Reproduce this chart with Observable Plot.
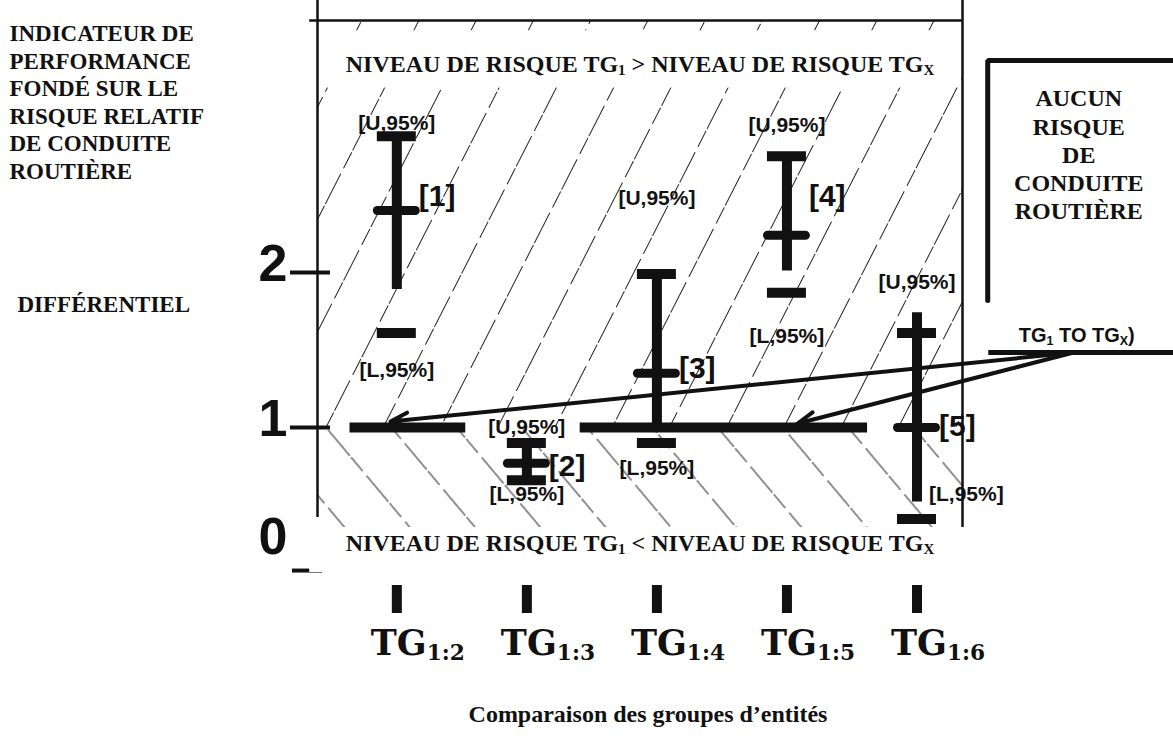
<!DOCTYPE html>
<html>
<head>
<meta charset="utf-8">
<script src="https://cdn.jsdelivr.net/npm/d3@7"></script>
<script src="https://cdn.jsdelivr.net/npm/@observablehq/plot@0.6"></script>
<style>
  html, body { margin: 0; padding: 0; background: #fff; }
  svg { display: block; }
</style>
</head>
<body>
<div id="chart"></div>
<script>
// ---- data -----------------------------------------------------------------
const groups      = ["1:2", "1:3", "1:4", "1:5", "1:6"];
const idLabels    = ["[1]", "[2]", "[3]", "[4]", "[5]"];
const estimate    = [2.40, 0.77, 1.35, 2.24, 1.00];   // point estimate (rounded marker)
const upperCI     = [2.88, 0.90, 1.99, 2.75, 1.61];   // [U,95%] cap
const lowerCI     = [1.61, 0.66, 0.90, 1.87, 0.41];   // [L,95%] dash
const stemTop     = [2.88, 0.90, 1.99, 2.75, 1.74];   // vertical bar, top
const stemBottom  = [1.89, 0.66, 1.00, 2.01, 0.52];   // vertical bar, bottom
const idLabelY    = [2.49, 0.75, 1.38, 2.49, 1.01];
const upperLabelY = [2.96, 1.00, 2.48, 2.95, 1.94];
const lowerLabelY = [1.37, 0.57, 0.74, 1.59, 0.57];
const yTickValues = [1, 2];
const yZero       = [0];
const refLevel    = 1;                                  // TG1 risk = TGx risk
const refSegments = [[0.64, 1.53], [2.41, 4.62]];
const arrowFrom   = [6.205, 1.484];
const arrowTo     = [[0.952, 1.039], [4.082, 1.026]];

const leftTitle   = "INDICATEUR DE\nPERFORMANCE\nFONDÉ SUR LE\nRISQUE RELATIF\nDE CONDUITE\nROUTIÈRE";
const leftTitle2  = "DIFFÉRENTIEL";
const boxText     = "AUCUN\nRISQUE\nDE\nCONDUITE\nROUTIÈRE";
const boxNote     = "TG_{1} TO TG_{X})";
const topNote     = "NIVEAU DE RISQUE TG_{1} > NIVEAU DE RISQUE TG_{X}";
const bottomNote  = "NIVEAU DE RISQUE TG_{1} < NIVEAU DE RISQUE TG_{X}";
const xTitle      = "Comparaison des groupes d’entités";

// ---- table built from the arrays -----------------------------------------
const rows = groups.map((g, k) => ({
  g, i: k + 1,
  est: estimate[k], up: upperCI[k], lo: lowerCI[k],
  top: stemTop[k], bot: stemBottom[k],
  id: idLabels[k], idY: idLabelY[k], uY: upperLabelY[k], lY: lowerLabelY[k]
}));
const idx = rows.map(d => d.i);

const X = [0.39, 5.35];      // x domain (frame)
const Y = [0.11, 3.626];     // y domain (frame)
const INK = "#111";
const SERIF = "'Liberation Serif','Times New Roman',serif";
const SANS = "'Liberation Sans',Arial,sans-serif";
const WIDE = "'DejaVu Serif',serif";
const capHalf = 0.15, meanHalf = 0.146;
const intFmt = d => String(d);

const chart = Plot.plot({
  width: 1173, height: 736,
  marginLeft: 317, marginRight: 211, marginTop: 20, marginBottom: 171,
  x: {domain: X, axis: null},
  y: {domain: Y, axis: null},
  style: {background: "#fff", color: INK},
  marks: [
    // hatched regions
    Plot.rect([{a: X[0], b: X[1], lo: refLevel, hi: Y[1]}], {x1: "a", x2: "b", y1: "lo", y2: "hi", fill: "url(#hatchUp)"}),
    Plot.rect([{a: X[0], b: X[1], lo: Y[0], hi: refLevel}], {x1: "a", x2: "b", y1: "lo", y2: "hi", fill: "url(#hatchDown)"}),
    // white band behind the top note
    Plot.rect([{a: X[0] + 0.02, b: X[1] - 0.02, lo: 3.19, hi: 3.56}], {x1: "a", x2: "b", y1: "lo", y2: "hi", fill: "#fff"}),
    // frame lines
    Plot.ruleX([X[0]], {y1: 0.42, y2: 3.77, stroke: INK, strokeWidth: 2.5}),
    Plot.ruleX([X[1]], {y1: Y[0], y2: 3.77, stroke: INK, strokeWidth: 2.5}),
    Plot.ruleY([Y[1]], {x1: 0.33, x2: X[1], stroke: INK, strokeWidth: 2.5}),
    // reference line at 1
    Plot.ruleY(refSegments, {y: () => refLevel, x1: d => d[0], x2: d => d[1], stroke: INK, strokeWidth: 10}),
    // interval bars
    Plot.ruleX(rows, {x: "i", y1: "bot", y2: "top", stroke: INK, strokeWidth: 10}),
    Plot.ruleY(rows, {y: "up", x1: d => d.i - capHalf, x2: d => d.i + capHalf, stroke: INK, strokeWidth: 10}),
    Plot.ruleY(rows, {y: "lo", x1: d => d.i - capHalf, x2: d => d.i + capHalf, stroke: INK, strokeWidth: 10}),
    Plot.ruleY(rows, {y: "est", x1: d => d.i - meanHalf, x2: d => d.i + meanHalf, stroke: INK, strokeWidth: 9, strokeLinecap: "round"}),
    // labels of the bars
    Plot.text(rows, {x: "i", y: "idY", text: "id", dx: 22, textAnchor: "start", fontFamily: SANS, fontWeight: "bold", fontSize: 30, fill: INK}),
    Plot.text(rows, {x: "i", y: "uY", text: () => "[U,95%]", fontFamily: SANS, fontWeight: "bold", fontSize: 21, fill: INK}),
    Plot.text(rows.filter(d => d.i < 5), {x: "i", y: "lY", text: () => "[L,95%]", fontFamily: SANS, fontWeight: "bold", fontSize: 21, fill: INK}),
    Plot.text(rows.filter(d => d.i === 5), {x: "i", y: "lY", text: () => "[L,95%]", dx: 12, textAnchor: "start", fontFamily: SANS, fontWeight: "bold", fontSize: 21, fill: INK}),
    // arrows from the side note
    Plot.arrow(arrowTo, {x1: () => arrowFrom[0], y1: () => arrowFrom[1], x2: d => d[0], y2: d => d[1], stroke: INK, strokeWidth: 4, headLength: 7, headAngle: 45, bend: 0}),
    // side box
    Plot.line([[5.544, 1.819], [5.544, 3.368], [7.2, 3.368]], {x: d => d[0], y: d => d[1], stroke: INK, strokeWidth: 5, strokeLinejoin: "miter"}),
    Plot.ruleY([arrowFrom[1]], {x1: 5.552, x2: 7.2, stroke: INK, strokeWidth: 5}),
    Plot.text([boxText], {x: () => 6.244, y: () => 3.20, text: d => d, lineAnchor: "top", lineHeight: 1.17, fontFamily: SERIF, fontWeight: "bold", fontSize: 24, fill: INK}),
    Plot.text([boxNote], {x: () => 6.229, y: () => 1.594, text: d => d, fontFamily: SANS, fontWeight: "bold", fontSize: 20, fill: INK}),
    // left titles
    Plot.text([leftTitle], {frameAnchor: "top-left", dx: -308, dy: 1, text: d => d, textAnchor: "start", lineAnchor: "top", lineHeight: 1.2, fontFamily: SERIF, fontWeight: "bold", fontSize: 23, fill: INK}),
    Plot.text([leftTitle2], {frameAnchor: "top-left", dx: -300, dy: 275, text: d => d, textAnchor: "start", lineAnchor: "top", fontFamily: SERIF, fontWeight: "bold", fontSize: 23, fill: INK}),
    // y axis
    Plot.axisY(yTickValues, {tickSize: 40, dx: 13, tickFormat: () => "", stroke: INK, strokeWidth: 4}),
    Plot.axisY(yTickValues, {tickSize: 0, tickPadding: 30, dy: -8, tickFormat: intFmt, fontFamily: SANS, fontWeight: "bold", fontSize: 52, fill: INK}),
    Plot.axisY(yZero, {tickSize: 30, dx: 5, dy: -12, tickFormat: () => "", stroke: INK, strokeWidth: 4}),
    Plot.axisY(yZero, {tickSize: 0, tickPadding: 30, dy: -45, tickFormat: intFmt, fontFamily: SANS, fontWeight: "bold", fontSize: 52, fill: INK}),
    // top note
    Plot.text([topNote], {frameAnchor: "top", dy: 34, text: d => d, fontFamily: SERIF, fontWeight: "bold", fontSize: 24, fill: INK}),
    // bottom band + note
    Plot.rect([{a: 0.33, b: 5.37, lo: 0.065, hi: 0.355}], {x1: "a", x2: "b", y1: "lo", y2: "hi", fill: "#fff"}),
    Plot.text([bottomNote], {frameAnchor: "bottom", dy: -15, text: d => d, fontFamily: SERIF, fontWeight: "bold", fontSize: 24, fill: INK}),
    // x axis
    Plot.axisX(idx, {tickSize: 28, dy: 20, tickFormat: () => "", stroke: INK, strokeWidth: 10}),
    Plot.text(rows, {x: "i", frameAnchor: "bottom", dy: 89, dx: -26, textAnchor: "start", text: d => `TG_{${d.g}}`, fontFamily: WIDE, fontWeight: "bold", fontSize: 35, fill: INK}),
    Plot.text([xTitle], {frameAnchor: "bottom", dx: 8, dy: 156, text: d => d, fontFamily: SERIF, fontWeight: "bold", fontSize: 24, fill: INK})
  ]
});

document.getElementById("chart").append(chart);

// hatch patterns
const svg = d3.select(chart.tagName.toLowerCase() === "svg" ? chart : chart.querySelector("svg"));
const defs = svg.insert("defs", ":first-child");
function hatch(id, angle, w) {
  const p = defs.append("pattern").attr("id", id)
    .attr("patternUnits", "userSpaceOnUse")
    .attr("width", w).attr("height", 60)
    .attr("patternTransform", `rotate(${angle})`);
  p.append("line").attr("x1", w / 2).attr("x2", w / 2).attr("y1", 0).attr("y2", 60)
    .attr("stroke", "#222").attr("stroke-width", 1)
    .attr("stroke-dasharray", "34 2 18 6");
}
hatch("hatchUp", 27, 51);
hatch("hatchDown", -40, 50);

// subscripts written as _{...}
svg.selectAll("text").each(function () {
  const el = this;
  if (el.querySelector("tspan")) return;
  const s = el.textContent;
  if (!s.includes("_{")) return;
  const fs = parseFloat(getComputedStyle(el).fontSize);
  const shift = fs * 0.16;
  el.textContent = "";
  let lowered = false;
  for (const part of s.split(/(_\{[^}]*\})/)) {
    if (!part) continue;
    const m = part.match(/^_\{(.*)\}$/);
    const t = document.createElementNS("http://www.w3.org/2000/svg", "tspan");
    if (m) {
      t.textContent = m[1];
      t.setAttribute("font-size", (fs * 0.62).toFixed(1));
      if (!lowered) { t.setAttribute("dy", shift.toFixed(1)); lowered = true; }
    } else {
      t.textContent = part;
      if (lowered) { t.setAttribute("dy", (-shift).toFixed(1)); lowered = false; }
    }
    el.appendChild(t);
  }
});
</script>
</body>
</html>
